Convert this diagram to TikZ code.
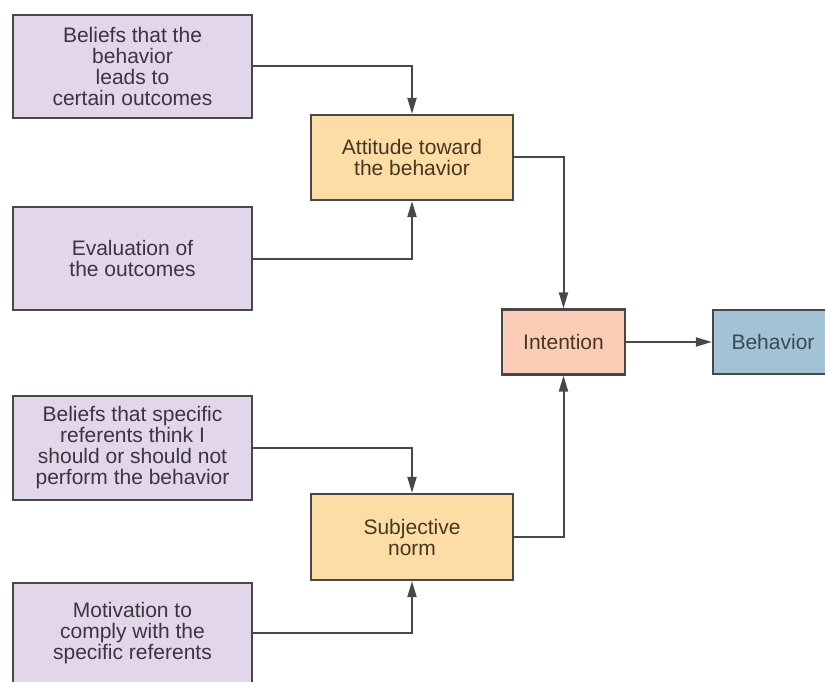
\documentclass[tikz,border=0pt]{standalone}
\usepackage{fontspec}
\setmainfont{Liberation Sans}
\usetikzlibrary{arrows.meta}
\definecolor{purp}{HTML}{E2D6EB}
\definecolor{orng}{HTML}{FCDDA6}
\definecolor{salm}{HTML}{FBCDB6}
\definecolor{blu}{HTML}{A2C2D6}
\definecolor{edge}{HTML}{484848}
\definecolor{txtg}{HTML}{3A363C}
\definecolor{txtb}{HTML}{463820}
\definecolor{txts}{HTML}{3C4852}
\begin{document}
\begin{tikzpicture}[x=1pt,y=-1pt,
  boxbase/.style={draw=edge,line width=2.2pt,align=center,inner sep=0pt,
    font=\fontsize{21}{21}\selectfont},
  pbox/.style={boxbase,fill=purp,text=txtg,minimum width=239pt},
  obox/.style={boxbase,fill=orng,text=txtb,minimum width=202pt,minimum height=85pt},
  conn/.style={draw=edge,line width=2pt,-{Triangle[length=16pt,width=9pt]}}]
\useasboundingbox (0,0) rectangle (825,682);
\node[pbox,minimum height=103pt] (b1) at (132.5,66.5) {Beliefs that the\\behavior\\leads to\\certain outcomes};
\node[pbox,minimum height=103pt] (ev) at (132.5,258.5) {Evaluation of\\the outcomes};
\node[obox] (att) at (412,157.5) {Attitude toward\\the behavior};
\node[boxbase,fill=salm,text=txtb,minimum width=123pt,minimum height=65pt] (int) at (563.5,342) {Intention};
\node[boxbase,fill=blu,text=txts,minimum width=120pt,minimum height=64pt] (beh) at (773,342) {Behavior};
\node[pbox,minimum height=104pt] (b6) at (132.5,448) {Beliefs that specific\\referents think I\\should or should not\\perform the behavior};
\node[obox,minimum height=86pt] (sn) at (412,537) {Subjective\\norm};
\node[pbox,minimum height=100pt] (b8) at (132.5,633) {Motivation to\\comply with the\\specific referents};
\draw[conn] (b1.east) -| (att.north);
\draw[conn] (ev.east) -| (att.south);
\draw[conn] (att.east) -| (int.north);
\draw[conn] (sn.east) -| (int.south);
\draw[conn] (int.east) -- (beh.west);
\draw[conn] (b6.east) -| (sn.north);
\draw[conn] (b8.east) -| (sn.south);
\end{tikzpicture}
\end{document}
